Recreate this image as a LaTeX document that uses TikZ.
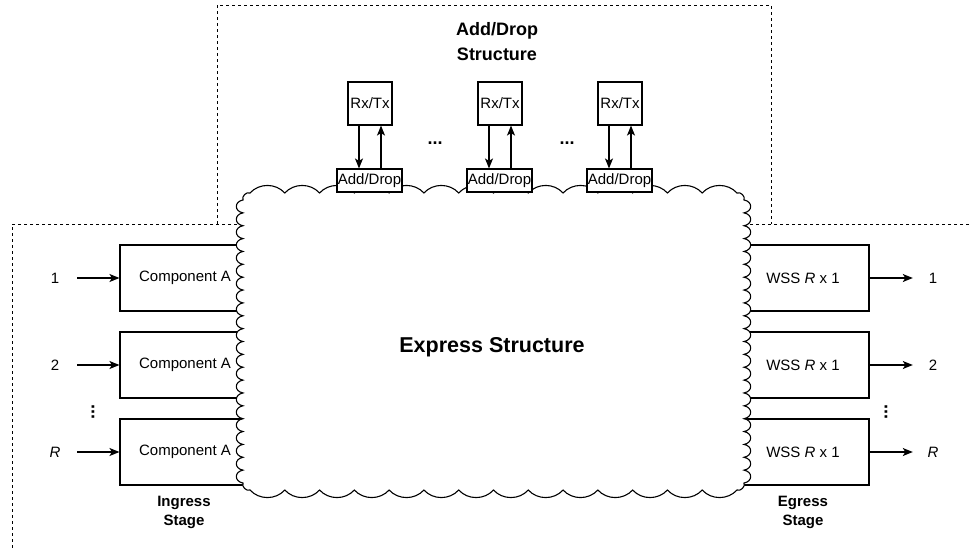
\documentclass[tikz,border=0pt]{standalone}
\usepackage{fontspec}
\setmainfont{Liberation Sans}
\usetikzlibrary{arrows.meta}
\begin{document}
\begin{tikzpicture}[x=1pt,y=-1pt,
  every node/.style={font=\fontsize{15}{18}\selectfont},
  line/.style={line width=1.1pt,draw=black},
  dashline/.style={line width=0.9pt,dash pattern=on 3pt off 3pt},
  box/.style={line,fill=white,inner sep=0pt,minimum width=#1},
  arr/.style={line width=1.1pt,-{Stealth[length=10pt,width=8pt,inset=2.5pt]}},
  boldlabel/.style={font=\fontsize{15}{19}\selectfont\bfseries,align=center},
  dots/.style={font=\fontsize{18}{18}\selectfont\bfseries,inner sep=0pt}]
\useasboundingbox (0,0) rectangle (970,549);

% dashed frames of the two structures
\draw[dashline] (217,224) -- (217,5) -- (771,5) -- (771,224);
\draw[dashline] (975,224) -- (12,224) -- (12,560);

% ingress components
\foreach \r/\y in {1/278,2/365,3/452}{
  \node[box=130pt,minimum height=66pt] (ca\r) at (185,\y) {Component A};
}
% egress components
\foreach \r/\y in {1/278,2/365,3/452}{
  \node[box=132pt,minimum height=66pt] (wss\r) at (803,\y) {WSS \textit{R} x 1};
}

% express structure cloud
\draw[line,fill=white] (250,193)
  \foreach \i in {1,...,14}{ to[bend left=48] ++(34.786,0) }
  to[bend left=70] ++(7,7)
  \foreach \i in {1,...,22}{ to[bend left=80,looseness=1.8] ++(0,12.864) }
  to[bend left=70] ++(-7,7)
  \foreach \i in {1,...,14}{ to[bend left=48] ++(-34.786,0) }
  to[bend left=70] ++(-7,-7)
  \foreach \i in {1,...,22}{ to[bend left=80,looseness=1.8] ++(0,-12.864) }
  to[bend left=70] cycle;
\node[font=\fontsize{21.5}{25}\selectfont\bfseries] (express) at (492,347) {Express Structure};

% add/drop structure
\node[boldlabel,font=\fontsize{18}{25}\selectfont\bfseries] (adtitle) at (497,42) {Add/Drop\\Structure};
\foreach \k/\x in {1/370,2/500,3/620}{
  \node[box=44pt,minimum height=43pt] (rt\k) at (\x,103.5) {Rx/Tx};
  \node[box=65pt,minimum height=23pt] (ad\k) at (\x-0.5,180.5) {Add/Drop};
  \draw[arr] ([xshift=-11pt]rt\k.south) -- ([xshift=-10.5pt]ad\k.north);
  \draw[arr] ([xshift=11.5pt]ad\k.north) -- ([xshift=11pt]rt\k.south);
}
\node[dots] (hd1) at (435,143) {...};
\node[dots] (hd2) at (567,143) {...};

% ingress inputs
\node[minimum width=44pt,inner sep=0pt] (in1) at (55,278) {1};
\node[minimum width=44pt,inner sep=0pt] (in2) at (55,365) {2};
\node[minimum width=44pt,inner sep=0pt] (in3) at (55,452) {\textit{R}};
\foreach \r in {1,2,3}{ \draw[arr] (in\r.east) -- (ca\r.west); }
\node[dots,rotate=90] (vd1) at (93,412) {...};

% egress outputs
\node[minimum width=40pt,inner sep=0pt] (out1) at (933,278) {1};
\node[minimum width=40pt,inner sep=0pt] (out2) at (933,365) {2};
\node[minimum width=40pt,inner sep=0pt] (out3) at (933,452) {\textit{R}};
\foreach \r in {1,2,3}{ \draw[arr] (wss\r.east) -- (out\r.west); }
\node[dots,rotate=90] (vd2) at (886,412) {...};

% stage captions
\node[boldlabel] (ingress) at (184,512) {Ingress\\Stage};
\node[boldlabel] (egress) at (803,512) {Egress\\Stage};
\end{tikzpicture}
\end{document}
